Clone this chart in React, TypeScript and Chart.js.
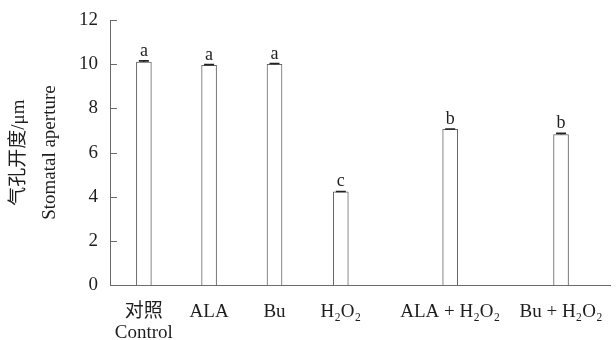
import React, { useEffect, useRef } from 'react';
import { Chart, registerables } from 'chart.js';

Chart.register(...registerables);

// ---- data ----
const categories: (string | string[])[] = [['对照', 'Control'], 'ALA', 'Bu', 'H₂O₂', 'ALA + H₂O₂', 'Bu + H₂O₂'];
const aperture = [10.1, 9.95, 9.99, 4.22, 7.05, 6.82];
const errors = [0.05, 0.03, 0.04, 0.02, 0.02, 0.05];
const letters = ['a', 'a', 'a', 'c', 'b', 'b'];
const yTicks = [0, 2, 4, 6, 8, 10, 12];

// ---- layout (group spacing on the x axis) ----
const slots = [0, 2.97, 5.95, 8.97, 13.95, 19];

const FONT = "'Liberation Serif', 'Times New Roman', 'Noto Sans CJK SC', serif";
const AXIS = '#6a6a6a';
const TEXT = '#1e1e1e';

const overlay = {
  id: 'overlay',
  afterDatasetsDraw(chart: any) {
    const ctx = chart.ctx;
    const ys = chart.scales.y;
    ctx.save();
    // inward y ticks
    ctx.strokeStyle = AXIS;
    ctx.lineWidth = 1;
    yTicks.forEach((t) => {
      const py = Math.round(ys.getPixelForValue(t)) + 0.5;
      ctx.beginPath();
      ctx.moveTo(ys.right, py);
      ctx.lineTo(ys.right + 6, py);
      ctx.stroke();
    });
    // error bars and letters
    const meta = chart.getDatasetMeta(0);
    meta.data.forEach((bar: any, i: number) => {
      const top = ys.getPixelForValue(aperture[i] + errors[i]);
      const base = ys.getPixelForValue(aperture[i]);
      ctx.strokeStyle = '#222';
      ctx.lineWidth = 1.6;
      ctx.beginPath();
      ctx.moveTo(bar.x, base);
      ctx.lineTo(bar.x, top);
      ctx.moveTo(bar.x - 5, top);
      ctx.lineTo(bar.x + 5, top);
      ctx.stroke();
      ctx.fillStyle = TEXT;
      ctx.font = `18px ${FONT}`;
      ctx.textAlign = 'center';
      ctx.textBaseline = 'alphabetic';
      ctx.fillText(letters[i], bar.x, top - 5);
    });
    ctx.restore();
  },
};

export default function App() {
  const ref = useRef<HTMLCanvasElement>(null);
  useEffect(() => {
    if (!ref.current) return;
    const chart = new Chart(ref.current, {
      type: 'bar',
      data: {
        datasets: [
          {
            data: aperture.map((v, i) => ({ x: slots[i], y: v })),
            backgroundColor: '#ffffff',
            borderColor: '#666666',
            borderWidth: 1,
            barThickness: 15,
            borderSkipped: 'bottom',
          },
        ],
      },
      options: {
        responsive: false,
        animation: false,
        layout: { padding: { left: 4, right: 6, top: 20, bottom: 0 } },
        plugins: { legend: { display: false }, tooltip: { enabled: false } },
        scales: {
          x: {
            type: 'linear',
            offset: false,
            min: -1.5,
            max: 21.23,
            grid: { display: false, drawTicks: false, offset: false },
            border: { display: true, color: AXIS, width: 1 },
            afterBuildTicks: (scale: any) => {
              scale.ticks = slots.map((v) => ({ value: v }));
            },
            afterFit: (scale: any) => {
              scale.paddingLeft = 0;
              scale.paddingRight = 0;
            },
            ticks: {
              autoSkip: false,
              maxRotation: 0,
              padding: 16,
              color: TEXT,
              font: { family: FONT, size: 19, lineHeight: 1.1 },
              callback: (_v: any, i: number) => categories[i],
            },
          },
          y: {
            min: 0,
            max: 12,
            grid: { display: false, drawTicks: false },
            border: { display: true, color: AXIS, width: 1 },
            afterBuildTicks: (scale: any) => {
              scale.ticks = yTicks.map((v) => ({ value: v }));
            },
            afterFit: (scale: any) => {
              scale.paddingTop = 0;
              scale.paddingBottom = 0;
            },
            ticks: {
              padding: 13,
              color: TEXT,
              font: { family: FONT, size: 19 },
            },
            title: {
              display: true,
              text: ['气孔开度/μm', 'Stomatal aperture'],
              color: TEXT,
              font: { family: FONT, size: 19, lineHeight: 1.63 },
              padding: { top: 0, bottom: 0 },
            },
          },
        },
      },
      plugins: [overlay],
    });
    return () => chart.destroy();
  }, []);
  return (
    <div style={{ position: 'fixed', left: 0, top: 0, width: 616, height: 340, overflow: 'hidden', background: '#fff' }}>
      <canvas ref={ref} width={616} height={359} />
    </div>
  );
}
